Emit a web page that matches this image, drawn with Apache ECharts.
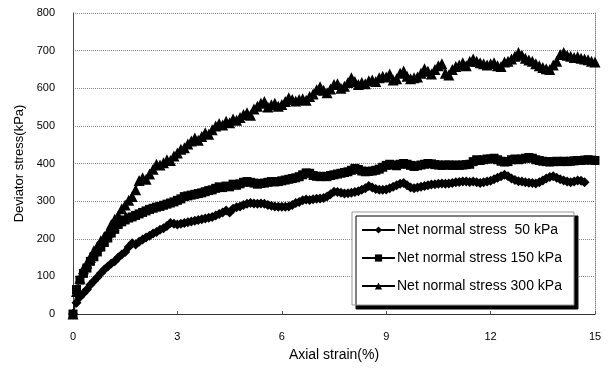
<!DOCTYPE html>
<html>
<head>
<meta charset="utf-8">
<script src="https://cdn.jsdelivr.net/npm/echarts@6/dist/echarts.min.js"></script>
<style>
  html, body { margin: 0; padding: 0; background: #fff; }
  #chart { width: 612px; height: 371px; }
</style>
</head>
<body>
<div id="chart"></div>
<script>
// Axial strain (%) at each reading
const strain = [
  0.0, 0.1, 0.2, 0.3, 0.4, 0.5, 0.6, 0.7, 0.8, 0.9,
  1.0, 1.1, 1.2, 1.3, 1.4, 1.5, 1.6, 1.7, 1.8, 1.9,
  2.0, 2.1, 2.2, 2.3, 2.4, 2.5, 2.6, 2.7, 2.8, 2.9,
  3.0, 3.1, 3.2, 3.3, 3.4, 3.5, 3.6, 3.7, 3.8, 3.9,
  4.0, 4.1, 4.2, 4.3, 4.4, 4.5, 4.6, 4.7, 4.8, 4.9,
  5.0, 5.1, 5.2, 5.3, 5.4, 5.5, 5.6, 5.7, 5.8, 5.9,
  6.0, 6.1, 6.2, 6.3, 6.4, 6.5, 6.6, 6.7, 6.8, 6.9,
  7.0, 7.1, 7.2, 7.3, 7.4, 7.5, 7.6, 7.7, 7.8, 7.9,
  8.0, 8.1, 8.2, 8.3, 8.4, 8.5, 8.6, 8.7, 8.8, 8.9,
  9.0, 9.1, 9.2, 9.3, 9.4, 9.5, 9.6, 9.7, 9.8, 9.9,
  10.0, 10.1, 10.2, 10.3, 10.4, 10.5, 10.6, 10.7, 10.8, 10.9,
  11.0, 11.1, 11.2, 11.3, 11.4, 11.5, 11.6, 11.7, 11.8, 11.9,
  12.0, 12.1, 12.2, 12.3, 12.4, 12.5, 12.6, 12.7, 12.8, 12.9,
  13.0, 13.1, 13.2, 13.3, 13.4, 13.5, 13.6, 13.7, 13.8, 13.9,
  14.0, 14.1, 14.2, 14.3, 14.4, 14.5, 14.6, 14.7, 14.8, 14.9,
  15.0
];

// Deviator stress (kPa), net normal stress 50 kPa
const stress50 = [
  0, 30, 45, 55, 65, 78, 88, 98, 108, 118,
  126, 134, 140, 150, 158, 165, 178, 188, 185, 192,
  198, 203, 208, 214, 218, 224, 228, 234, 242, 240,
  238, 240, 242, 244, 246, 248, 250, 252, 254, 256,
  258, 262, 266, 270, 275, 270, 280, 284, 286, 290,
  293, 295, 294, 293, 294, 293, 290, 288, 286, 285,
  285, 285, 286, 290, 295, 298, 302, 304, 303, 305,
  306, 307, 308, 312, 318, 325, 324, 322, 320, 321,
  322, 324, 326, 330, 334, 340, 336, 332, 330, 330,
  331, 334, 338, 342, 346, 348, 342, 336, 334, 336,
  338, 340, 342, 344, 345, 346, 347, 346, 347, 348,
  350, 351, 352, 352, 351, 352, 350, 348, 350, 352,
  354, 358, 362, 366, 370, 366, 360, 356, 353, 352,
  350, 349, 348, 347, 350, 355, 360, 364, 366, 362,
  358, 355, 352, 350, 352, 355, 354, 350
];

// Deviator stress (kPa), net normal stress 150 kPa
const stress150 = [
  0, 65, 90, 108, 122, 140, 152, 165, 178, 190,
  202, 215, 225, 238, 245, 250, 255, 258, 262, 266,
  270, 274, 278, 281, 284, 286, 289, 292, 295, 298,
  302, 306, 312, 314, 316, 318, 320, 322, 325, 328,
  330, 334, 338, 336, 340, 338, 345, 342, 346, 350,
  352, 350, 348, 345, 347, 348, 350, 352, 351, 352,
  354, 356, 358, 360, 362, 365, 370, 375, 374, 368,
  366, 365, 366, 365, 368, 370, 372, 374, 376, 378,
  382, 387, 384, 380, 378, 379, 380, 382, 385, 390,
  395, 398, 396, 394, 398, 400, 398, 395, 392, 394,
  396, 398, 400, 399, 397, 396, 395, 396, 396, 395,
  396, 395, 396, 397, 398, 405, 410, 408, 410, 412,
  412, 414, 410, 406, 404, 405, 410, 412, 410, 412,
  414, 416, 414, 410, 408, 406, 405, 404, 405, 406,
  405, 406, 405, 406, 407, 408, 408, 409, 410, 409,
  408
];

// Deviator stress (kPa), net normal stress 300 kPa
const stress300 = [
  0, 60, 95, 120, 135, 150, 168, 180, 195, 206,
  218, 238, 252, 262, 280, 290, 302, 312, 330, 355,
  362, 358, 372, 385, 398, 396, 402, 410, 408, 420,
  428, 438, 442, 452, 460, 468, 462, 472, 482, 478,
  490, 500, 506, 502, 512, 508, 518, 515, 522, 530,
  535, 528, 545, 552, 560, 565, 550, 556, 560, 552,
  557, 565, 575, 570, 566, 570, 572, 568, 578, 585,
  596, 604, 595, 588, 598, 610, 612, 600, 605, 615,
  628, 618, 610, 615, 612, 620, 622, 618, 628, 632,
  630, 638, 622, 625, 640, 646, 632, 625, 628, 630,
  640, 652, 645, 638, 650, 660, 665, 640, 635, 650,
  658, 662, 668, 660, 672, 678, 672, 668, 665, 662,
  665, 668, 660, 658, 670, 672, 678, 685, 695, 688,
  680, 675, 672, 665, 660, 655, 652, 650, 662, 672,
  690, 695, 688, 685, 682, 684, 680, 678, 676, 672,
  670
];

const seriesNames = [
  'Net normal stress  50 kPa',
  'Net normal stress 150 kPa',
  'Net normal stress 300 kPa'
];

const pairs = (ys) => ys.map((y, i) => [strain[i], y]);

const FONT = '"Liberation Sans", Arial, sans-serif';

const makeSeries = (name, ys, symbol, size) => ({
  name: name,
  type: 'line',
  data: pairs(ys),
  symbol: symbol,
  symbolSize: size,
  showSymbol: true,
  itemStyle: { color: '#000' },
  lineStyle: { color: '#000', width: 1 },
  emphasis: { disabled: true }
});

const chart = echarts.init(document.getElementById('chart'), null, { renderer: 'canvas' });

chart.setOption({
  animation: false,
  backgroundColor: '#fff',
  textStyle: { fontFamily: FONT, color: '#000' },
  grid: { left: 73, right: 17, top: 13, bottom: 57, containLabel: false },
  xAxis: {
    type: 'value',
    min: 0, max: 15, interval: 3,
    name: 'Axial strain(%)',
    nameLocation: 'middle',
    nameGap: 34,
    nameTextStyle: { fontFamily: FONT, fontSize: 14, color: '#000' },
    axisLine: { show: true, lineStyle: { color: '#333', width: 1 } },
    axisTick: { show: true, inside: true, length: 3, lineStyle: { color: '#555' } },
    axisLabel: { fontFamily: FONT, fontSize: 11, color: '#000', margin: 17 },
    splitLine: { show: false }
  },
  yAxis: [{
    type: 'value',
    min: 0, max: 800, interval: 100,
    name: 'Deviator stress(kPa)',
    nameLocation: 'middle',
    nameGap: 47,
    nameTextStyle: { fontFamily: FONT, fontSize: 13, color: '#000' },
    axisLine: { show: true, lineStyle: { color: '#444', width: 1 } },
    axisTick: { show: false },
    axisLabel: { fontFamily: FONT, fontSize: 11, color: '#000', margin: 18 },
    splitLine: { show: true, lineStyle: { color: '#888', width: 1, type: 'dotted' } }
  }, {
    // right-hand frame edge of the plot area
    type: 'value',
    position: 'right',
    min: 0, max: 800, interval: 100,
    axisLine: { show: true, lineStyle: { color: '#888', width: 1, type: 'dotted' } },
    axisTick: { show: false },
    axisLabel: { show: false },
    splitLine: { show: false }
  }],
  legend: {
    orient: 'vertical',
    left: 352,
    top: 212,
    data: seriesNames,
    itemWidth: 33,
    itemHeight: 9,
    itemGap: 14,
    padding: [11, 12, 12, 9],
    backgroundColor: '#fff',
    borderColor: '#999',
    borderWidth: 1,
    shadowColor: '#000',
    shadowBlur: 0,
    shadowOffsetX: 4,
    shadowOffsetY: 4,
    textStyle: { fontFamily: FONT, fontSize: 14, color: '#000', padding: [0, 0, 0, -3] },
    selectedMode: false
  },
  series: [
    makeSeries(seriesNames[0], stress50, 'diamond', 10),
    makeSeries(seriesNames[1], stress150, 'rect', 9),
    makeSeries(seriesNames[2], stress300, 'triangle', 11)
  ]
});
</script>
</body>
</html>
